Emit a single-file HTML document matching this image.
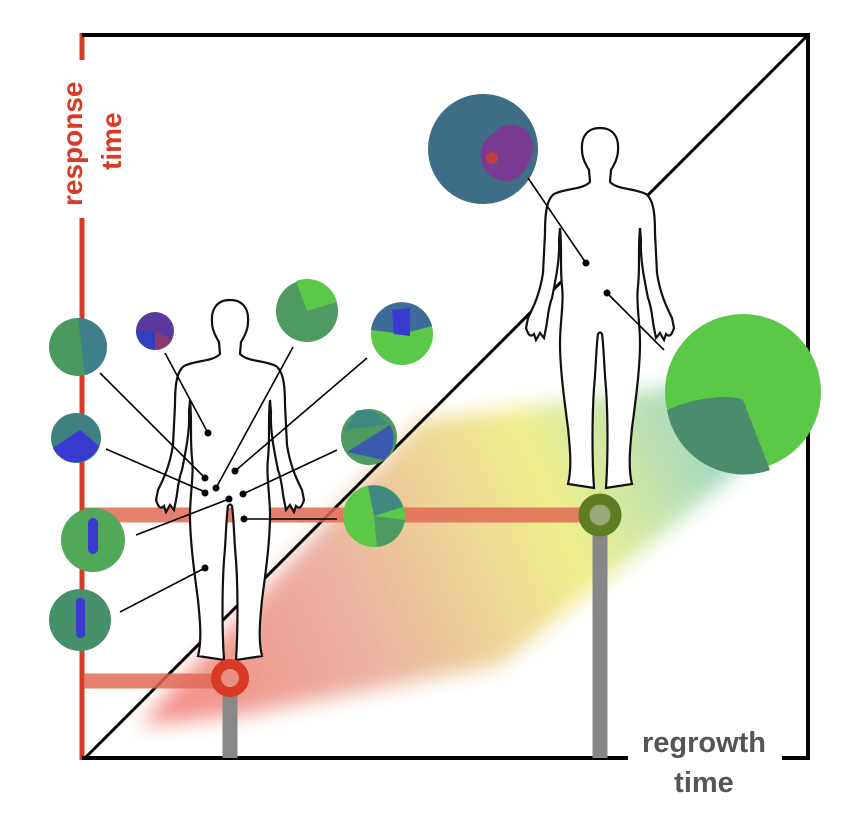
<!DOCTYPE html>
<html><head><meta charset="utf-8"><style>
html,body{margin:0;padding:0;background:#fff;width:854px;height:822px;overflow:hidden}
svg{display:block}
text{font-family:"Liberation Sans",sans-serif;font-weight:bold}
</style></head><body>
<svg width="854" height="822" viewBox="0 0 854 822" xmlns="http://www.w3.org/2000/svg">
<defs>
<linearGradient id="blob" x1="140" y1="700" x2="740" y2="440" gradientUnits="userSpaceOnUse">
<stop offset="0" stop-color="#f04a40"/>
<stop offset="0.35" stop-color="#e08a70"/>
<stop offset="0.7" stop-color="#e8e850"/>
<stop offset="1" stop-color="#60c0b0"/>
</linearGradient>
<filter id="bl" x="-20%" y="-20%" width="140%" height="140%"><feGaussianBlur stdDeviation="10"/></filter>
<path id="half" d="M0,0 C-13,0 -19,9 -18,22 C-18,30 -14,37 -11,42 L-10,54 C-18,62 -34,60 -46,66 C-54,72 -55,88 -55,105 L-57,145 C-60,165 -66,178 -72,190 L-74,200 C-72,206 -70,210 -66,206 L-64,212 L-60,205 L-56,210 L-54,200 C-52,190 -52,180 -48,170 C-44,150 -40,130 -41,112 L-40,100 C-38,120 -40,140 -38,158 C-36,175 -40,195 -40,215 C-40,240 -36,270 -32,300 C-30,320 -28,340 -32,356 L-6,360 C-8,330 -8,290 -6,260 C-4,240 -4,220 -2,206 L0,204"/>
<g id="man" fill="#fff" stroke="#111" stroke-width="2.2">
<use href="#half"/><use href="#half" transform="scale(-1,1)"/>
</g>
</defs>

<polygon points="140,725 420,420 580,400 720,380 740,470 500,665 240,715" fill="url(#blob)" opacity="0.65" filter="url(#bl)"/>

<line x1="82" y1="33" x2="82" y2="60" stroke="#d83a25" stroke-width="5"/>
<line x1="82" y1="218" x2="82" y2="760" stroke="#d83a25" stroke-width="5"/>
<line x1="82" y1="35" x2="810" y2="35" stroke="#000" stroke-width="4"/>
<line x1="808" y1="33" x2="808" y2="760" stroke="#000" stroke-width="4"/>
<line x1="82" y1="758" x2="628" y2="758" stroke="#000" stroke-width="4"/>
<line x1="782" y1="758" x2="810" y2="758" stroke="#000" stroke-width="4"/>
<line x1="85" y1="758" x2="808" y2="35" stroke="#000" stroke-width="3"/>

<text transform="translate(82,206) rotate(-90)" font-size="28" fill="#d83a25">response</text>
<text transform="translate(121,170) rotate(-90)" font-size="28" fill="#d83a25">time</text>
<text x="704" y="752" font-size="29" fill="#555" text-anchor="middle">regrowth</text>
<text x="704" y="792" font-size="29" fill="#555" text-anchor="middle">time</text>

<line x1="84" y1="515" x2="600" y2="515" stroke="#e06a55" stroke-opacity="0.85" stroke-width="15"/>
<line x1="84" y1="681" x2="230" y2="681" stroke="#e06a55" stroke-opacity="0.85" stroke-width="15"/>
<line x1="230" y1="690" x2="230" y2="758" stroke="#888" stroke-width="15"/>
<line x1="600" y1="530" x2="600" y2="758" stroke="#888" stroke-width="15"/>

<use href="#man" transform="translate(230,300)"/>
<use href="#man" transform="translate(600,128)"/>

<circle cx="230" cy="678" r="14" fill="#e89080" stroke="#d83a25" stroke-width="10"/>
<circle cx="600" cy="515" r="16" fill="#98a878" stroke="#5e7d22" stroke-width="11"/>

<g stroke="none">
<circle cx="78" cy="347" r="29" fill="#4a9a60"/><path d="M78,318 A29,29 0 0 1 107,347 A29,29 0 0 1 85,375 Z" fill="#3f7f8a"/>
<circle cx="155" cy="331" r="19" fill="#5a3aa0"/><path d="M136,331 A19,19 0 0 0 155,350 L155,331 Z" fill="#3040c0"/><path d="M155,331 L155,350 A19,19 0 0 0 172,340 Z" fill="#8a3a6a"/>
<circle cx="307" cy="311" r="31" fill="#4e9a60"/><path d="M307,311 L296,281 A31,31 0 0 1 337,302 Z" fill="#5cc848"/>
<circle cx="402" cy="334" r="31" fill="#5cc848"/><path d="M371,330 A31,31 0 0 1 432,326 L402,334 Z" fill="#3e6c98"/><path d="M392,310 L410,308 L410,336 L394,334 Z" fill="#3a3ad0"/>
<circle cx="76" cy="438" r="25" fill="#3f8080"/><path d="M53,448 A25,25 0 0 0 99,446 L80,430 Z" fill="#3a3ad0"/>
<circle cx="369" cy="437" r="28" fill="#4e9a62"/><path d="M347,452 L390,425 A28,28 0 0 1 384,460 Z" fill="#3a5ab0"/><path d="M345,430 L388,424 A28,28 0 0 0 356,411 Z" fill="#3f8a80"/>
<circle cx="93" cy="540" r="32" fill="#50a858"/><rect x="88" y="518" width="10" height="36" rx="5" fill="#3a3ad0"/>
<circle cx="374" cy="516" r="31" fill="#5cc848"/><path d="M374,516 L368,486 A31,31 0 0 1 403,507 Z" fill="#3f8a80"/><path d="M374,516 L405,520 A31,31 0 0 1 377,547 Z" fill="#4e9a62"/>
<circle cx="80" cy="620" r="31" fill="#46906a"/><rect x="76" y="598" width="9" height="40" rx="4" fill="#3a3ad0"/>
<circle cx="483" cy="149" r="55" fill="#3e6d86"/><path d="M494,133 A22,22 0 0 1 533,150 A55,55 0 0 1 518,178 A22,22 0 0 1 494,133 Z" fill="#7a3a90"/><circle cx="492" cy="158" r="6" fill="#c04040"/>
<circle cx="743" cy="392" r="78" fill="#5cc848"/><path d="M667,410 C700,395 735,395 743,400 L770,470 A78,78 0 0 1 667,410 Z" fill="#4a8c6c"/>
</g>

<g stroke="#000" stroke-width="1.6">
<line x1="100" y1="373" x2="205" y2="478"/>
<line x1="165" y1="353" x2="208" y2="433"/>
<line x1="293" y1="347" x2="216" y2="488"/>
<line x1="367" y1="358" x2="235" y2="471"/>
<line x1="106" y1="449" x2="205" y2="492"/>
<line x1="337" y1="450" x2="243" y2="494"/>
<line x1="136" y1="535" x2="229" y2="499"/>
<line x1="337" y1="519" x2="243" y2="519"/>
<line x1="120" y1="612" x2="205" y2="568"/>
<line x1="528" y1="178" x2="586" y2="263"/>
<line x1="607" y1="293" x2="664" y2="350"/>
</g>
<g fill="#000">
<circle cx="208" cy="433" r="3.5"/><circle cx="205" cy="478" r="3.5"/><circle cx="216" cy="488" r="3.5"/>
<circle cx="205" cy="493" r="3.5"/><circle cx="235" cy="471" r="3.5"/><circle cx="243" cy="494" r="3.5"/>
<circle cx="229" cy="499" r="3.5"/><circle cx="244" cy="519" r="3.5"/><circle cx="205" cy="568" r="3.5"/>
<circle cx="586" cy="263" r="3.5"/><circle cx="607" cy="293" r="3.5"/>
</g>
</svg>
</body></html>
